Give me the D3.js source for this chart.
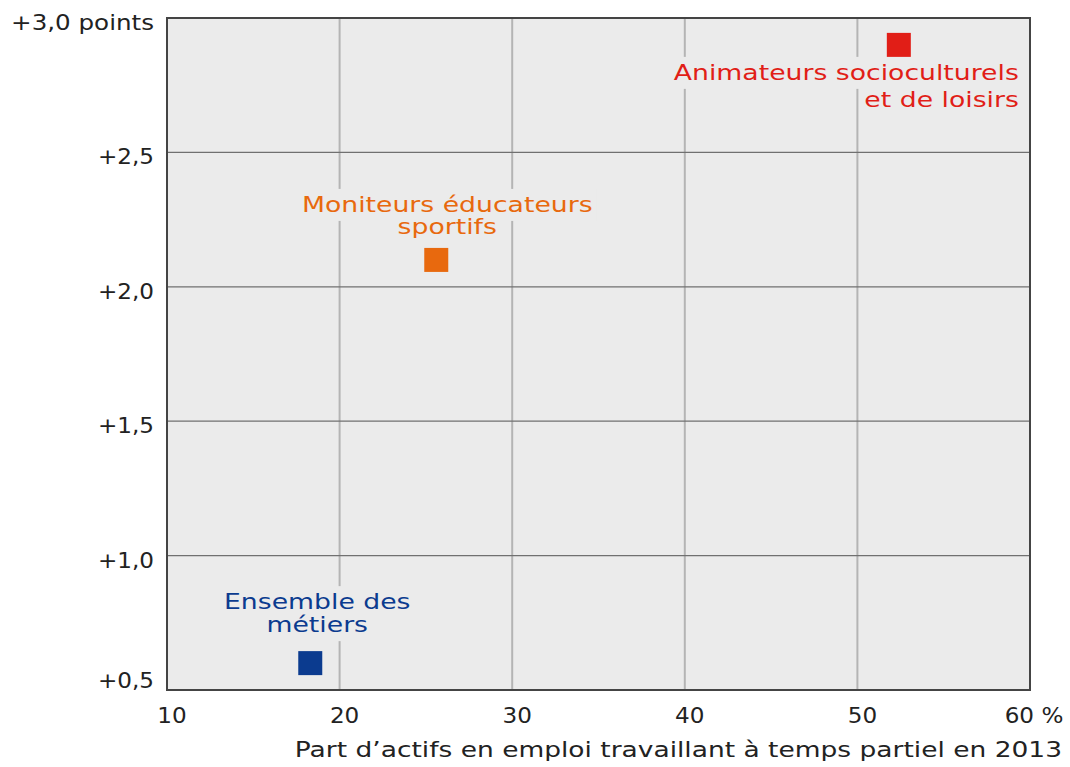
<!DOCTYPE html>
<html>
<head>
<meta charset="utf-8">
<script src="https://cdn.jsdelivr.net/npm/d3@7"></script>
<style>
  body { margin: 0; background: #fff; }
  text { font-family: "DejaVu Sans", sans-serif; }
</style>
</head>
<body>
<script>
// Data
const metiers = [["Ensemble des", "métiers"], ["Moniteurs éducateurs", "sportifs"], ["Animateurs socioculturels", "et de loisirs"]];
const partTempsPartiel = [18.3, 25.6, 52.4];   // % en 2013
const evolutionPoints = [0.6, 2.1, 2.9];       // points
const xTicks = [10, 20, 30, 40, 50, 60];
const yTicks = [0.5, 1.0, 1.5, 2.0, 2.5, 3.0];
const xTitle = "Part d\u2019actifs en emploi travaillant à temps partiel en 2013";

const colors = ["#0b3b8f", "#e8690e", "#e11e17"];
// label placement relative to the marker: dx, baselines, anchor
const labelPos = [
  { dx: 7, dy: [-54, -31], anchor: "middle" },
  { dx: 11, dy: [-48, -26], anchor: "middle" },
  { dx: 120, dy: [35, 62], anchor: "end" }
];

const width = 1070, height = 767;
const margin = { top: 18, right: 40, bottom: 77, left: 167 };

// the original font is a wide geometric face: widen DejaVu to match
function stretch(sel, k) {
  sel.each(function (d) {
    const kk = typeof k === 'function' ? k(d) : k;
    const w = this.getComputedTextLength();
    d3.select(this).attr('textLength', w * kk).attr('lengthAdjust', 'spacingAndGlyphs');
  });
}

const svg = d3.select('body').append('svg')
  .attr('width', width)
  .attr('height', height);

const x = d3.scaleLinear().domain([10, 60]).range([margin.left, width - margin.right]);
const y = d3.scaleLinear().domain([0.5, 3.0]).range([height - margin.bottom, margin.top]);

// plot background
svg.append('rect')
  .attr('x', x(10)).attr('y', y(3))
  .attr('width', x(60) - x(10)).attr('height', y(0.5) - y(3))
  .attr('fill', '#ebebeb');

// grid
svg.append('g').selectAll('line')
  .data(xTicks.slice(1, -1))
  .enter().append('line')
  .attr('x1', d => x(d)).attr('x2', d => x(d))
  .attr('y1', y(3)).attr('y2', y(0.5))
  .attr('stroke', '#b4b4b4')
  .attr('stroke-width', 2);

svg.append('g').selectAll('line')
  .data(yTicks.slice(1, -1))
  .enter().append('line')
  .attr('x1', x(10)).attr('x2', x(60))
  .attr('y1', d => y(d)).attr('y2', d => y(d))
  .attr('stroke', '#707070')
  .attr('stroke-width', 1.3);

// frame
svg.append('rect')
  .attr('x', x(10)).attr('y', y(3))
  .attr('width', x(60) - x(10)).attr('height', y(0.5) - y(3))
  .attr('fill', 'none')
  .attr('stroke', '#444')
  .attr('stroke-width', 2);

// axes labels
const fmtY = d => '+' + d.toFixed(1).replace('.', ',') + (d === 3 ? ' points' : '');
svg.append('g').selectAll('text')
  .data(yTicks)
  .enter().append('text')
  .attr('x', margin.left - 13)
  .attr('y', d => y(d) + (d === 0.5 ? -2 : 12))
  .attr('text-anchor', 'end')
  .style('font-size', '21px')
  .attr('fill', '#222')
  .text(fmtY)
  .call(stretch, d => d === 3 ? 1.17 : 1.1);

svg.append('g').selectAll('text')
  .data(xTicks)
  .enter().append('text')
  .attr('x', d => x(d) + (d === 60 ? 4 : 5))
  .attr('y', y(0.5) + 33)
  .attr('text-anchor', 'middle')
  .style('font-size', '21px')
  .attr('fill', '#222')
  .text(d => d === 60 ? '60 %' : d)
  .call(stretch, 1.1);

svg.append('text')
  .attr('x', 1062)
  .attr('y', 757)
  .attr('text-anchor', 'end')
  .style('font-size', '21px')
  .attr('fill', '#222')
  .text(xTitle)
  .call(stretch, 1.26);

// labels with background boxes that cut the grid
metiers.forEach((lines, i) => {
  const px = x(partTempsPartiel[i]), py = y(evolutionPoints[i]);
  const g = svg.append('g');
  lines.forEach((line, j) => {
    const t = g.append('text')
      .attr('x', px + labelPos[i].dx)
      .attr('y', py + labelPos[i].dy[j])
      .attr('text-anchor', labelPos[i].anchor)
      .style('font-size', '21px')
      .attr('fill', colors[i])
      .text(line)
      .call(stretch, 1.27);
    const b = t.node().getBBox();
    g.insert('rect', 'text')
      .attr('x', b.x - 4).attr('y', b.y - 4)
      .attr('width', b.width + 8).attr('height', b.height + 8)
      .attr('fill', '#ebebeb');
  });
});

// markers
svg.append('g').selectAll('rect')
  .data(partTempsPartiel)
  .enter().append('rect')
  .attr('x', d => x(d) - 12)
  .attr('y', (d, i) => y(evolutionPoints[i]) - 12)
  .attr('width', 24).attr('height', 24)
  .attr('fill', (d, i) => colors[i]);
</script>
</body>
</html>
